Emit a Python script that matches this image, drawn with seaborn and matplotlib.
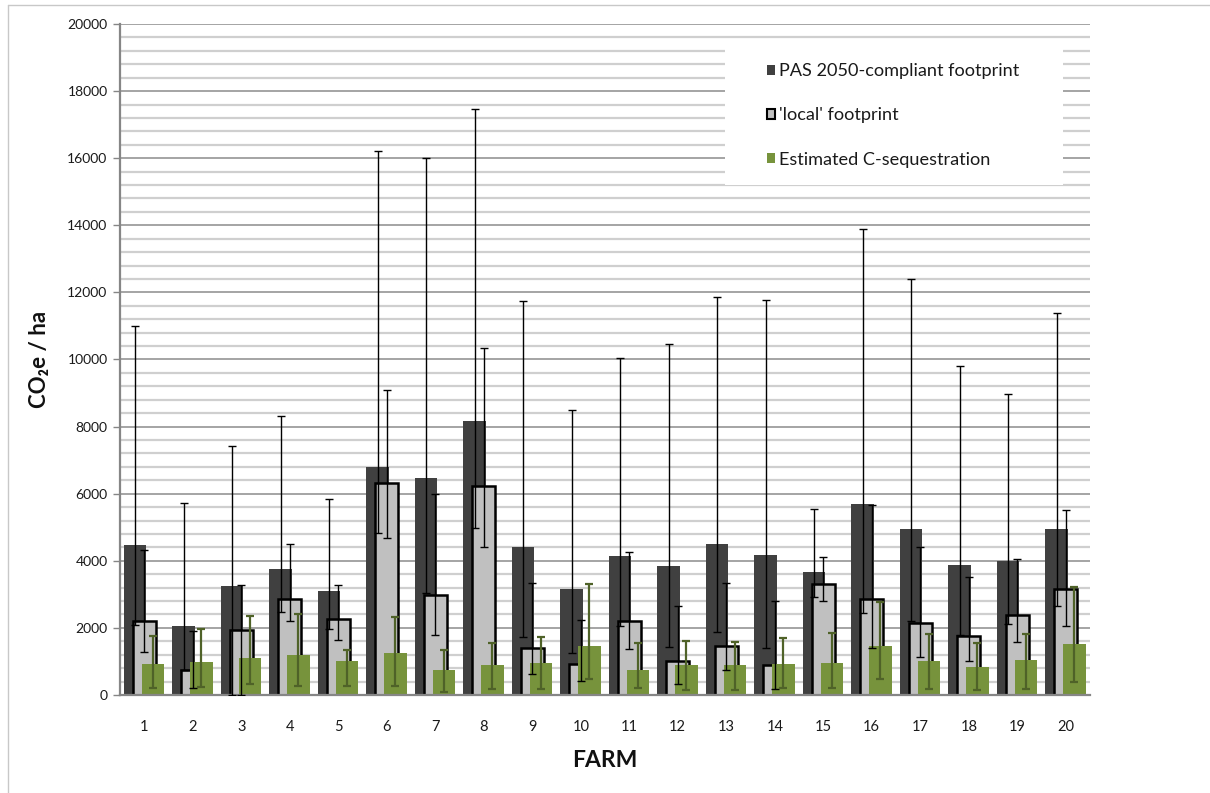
import numpy as np
import pandas as pd
import matplotlib
matplotlib.use('Agg')
import matplotlib.pyplot as plt
from matplotlib.patches import Patch, Rectangle
from matplotlib.lines import Line2D
from matplotlib.ticker import MultipleLocator
import seaborn as sns

# Data (CO2e per ha)
farms = list(range(1, 21))

pas = [4480, 2070, 3250, 3770, 3100, 6800, 6480, 8180, 4410, 3150,
       4150, 3850, 4510, 4170, 3660, 5680, 4950, 3880, 3990, 4950]
pas_lo = [2090, 750, 0, 2470, 1960, 4840, 3030, 4990, 1740, 1260,
          2070, 1430, 1880, 1390, 2910, 2430, 2200, 1790, 2130, 2640]
pas_hi = [11000, 5720, 7430, 8320, 5840, 16200, 16000, 17480, 11750, 8500,
          10050, 10450, 11850, 11770, 5530, 13880, 12400, 9820, 8970, 11400]

local = [2210, 750, 1940, 2870, 2270, 6310, 2990, 6240, 1410, 920,
         2220, 1010, 1460, 900, 3310, 2860, 2160, 1760, 2380, 3150]
local_lo = [1280, 200, 0, 2210, 1650, 4690, 1780, 4400, 630, 410,
            1370, 320, 740, 180, 2800, 1390, 1140, 1010, 1570, 2060]
local_hi = [4310, 1920, 3280, 4510, 3280, 9090, 5990, 10340, 3330, 2250,
            4260, 2650, 3350, 2790, 4100, 5650, 4420, 3530, 4050, 5520]

seq = [930, 970, 1110, 1180, 1000, 1240, 760, 900, 940, 1460,
       760, 880, 880, 920, 950, 1470, 1000, 820, 1030, 1520]
seq_lo = [200, 230, 320, 270, 280, 280, 100, 170, 170, 470,
          220, 160, 160, 200, 200, 490, 190, 150, 190, 380]
seq_hi = [1750, 1960, 2340, 2420, 1340, 2320, 1350, 1540, 1730, 3310,
          1540, 1610, 1570, 1710, 1860, 2780, 1820, 1560, 1820, 3230]

labels = ["PAS 2050-compliant footprint", "'local' footprint", "Estimated C-sequestration"]

# styling
c_pas = '#404040'
c_local = '#C0C0C0'
c_seq = '#77933C'
c_seq_err = '#4F6228'
offsets = [-0.19, 0.0, 0.18]
width = 0.47

sns.set_theme(style='white')
plt.rcParams['font.family'] = ['Lato', 'DejaVu Sans']

fig = plt.figure(figsize=(12.1, 7.93), dpi=100)
ax = fig.add_axes([120 / 1210, 98 / 793, 970 / 1210, 671 / 793])

df = pd.DataFrame({'farm': farms, 'pas': pas, 'local': local, 'seq': seq})
x = np.array(farms, dtype=float)

sns.barplot(x=x + offsets[0], y=df['pas'], native_scale=True, width=width,
            color=c_pas, saturation=1, linewidth=0, errorbar=None, ax=ax)
sns.barplot(x=x + offsets[1], y=df['local'], native_scale=True, width=width,
            color=c_local, saturation=1, edgecolor='black', linewidth=1.8,
            errorbar=None, ax=ax)
sns.barplot(x=x + offsets[2], y=df['seq'], native_scale=True, width=width,
            color=c_seq, saturation=1, linewidth=0, errorbar=None, ax=ax)

# asymmetric error bars, drawn on top of all bars
for off, val, lo, hi, col, lw in [
        (offsets[0], pas, pas_lo, pas_hi, 'black', 1.0),
        (offsets[1], local, local_lo, local_hi, 'black', 1.0),
        (offsets[2], seq, seq_lo, seq_hi, c_seq_err, 1.6)]:
    val = np.array(val)
    yerr = [val - np.array(lo), np.array(hi) - val]
    ax.errorbar(x + off, val, yerr=yerr, fmt='none', ecolor=col,
                elinewidth=lw, capsize=2.6, capthick=lw, zorder=5)

ax.set_xlim(0.5, 20.5)
ax.set_ylim(0, 20000)
ax.set_xticks(farms)
ax.set_xticklabels([str(f) for f in farms])
ax.yaxis.set_major_locator(MultipleLocator(2000))
ax.yaxis.set_minor_locator(MultipleLocator(400))

ax.set_axisbelow(True)
ax.grid(which='major', axis='y', color='#8c8c8c', linewidth=1.1)
ax.grid(which='minor', axis='y', color='#cfcfcf', linewidth=1.6)
ax.grid(which='both', axis='x', visible=False)

for s in ['top', 'right']:
    ax.spines[s].set_visible(False)
for s in ['left', 'bottom']:
    ax.spines[s].set_color('#868686')
    ax.spines[s].set_linewidth(1.6)

ax.tick_params(axis='y', which='major', left=True, length=5, width=1,
               color='#868686', labelsize=10, labelcolor='#1a1a1a', pad=4)
ax.tick_params(axis='y', which='minor', length=0)
ax.tick_params(axis='x', bottom=False, labelsize=10.5, labelcolor='#1a1a1a', pad=12)

ax.set_ylabel('CO\u2082e / ha', fontsize=16, fontweight='bold', color='#111111')
ax.yaxis.set_label_coords(-0.072, 0.5)
ax.set_xlabel('FARM', fontsize=16.5, fontweight='bold', color='#111111', va='top')
ax.xaxis.set_label_coords(0.5, -0.082)

# white legend panel covering gridlines
ax.add_patch(Rectangle((0.624, 0.760), 0.348, 0.216, transform=ax.transAxes,
                       facecolor='white', edgecolor='none', zorder=2))
handles = [Patch(facecolor=c_pas, edgecolor='none'),
           Patch(facecolor=c_local, edgecolor='black', linewidth=1.5),
           Patch(facecolor=c_seq, edgecolor='none')]
leg = ax.legend(handles, labels, loc='upper left', bbox_to_anchor=(0.667, 0.9415),
                frameon=False, fontsize=13.1, handlelength=0.44, handleheight=0.44,
                handletextpad=0.2, labelspacing=1.55, borderpad=0, borderaxespad=0)
leg.set_zorder(6)
for t in leg.get_texts():
    t.set_color('#1a1a1a')

# chart-area border (left and top edges visible)
fig.add_artist(Line2D([8 / 1210, 8 / 1210], [0, 1 - 5 / 793], transform=fig.transFigure,
                      color='#c8c8c8', linewidth=1))
fig.add_artist(Line2D([8 / 1210, 1], [1 - 5 / 793, 1 - 5 / 793], transform=fig.transFigure,
                      color='#c8c8c8', linewidth=1))

fig.savefig('out.png', dpi=100)
